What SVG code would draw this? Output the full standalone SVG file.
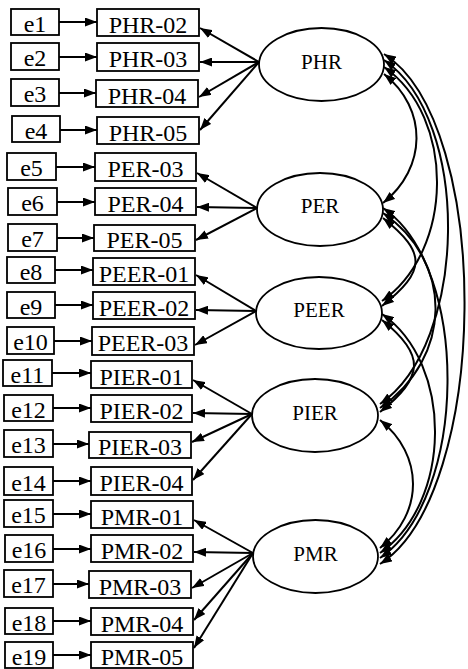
<svg xmlns="http://www.w3.org/2000/svg" width="468" height="669" viewBox="0 0 468 669">
<style>
.b{fill:#fff;stroke:#000;stroke-width:1.8}
.t{font-family:"Liberation Serif","Times New Roman",serif;font-size:24px;text-anchor:middle;fill:#000}
.lt{font-family:"Liberation Serif","Times New Roman",serif;font-size:21px;text-anchor:middle;fill:#000}
.a{stroke:#000;stroke-width:2;fill:none;marker-end:url(#ah)}
.c{stroke:#000;stroke-width:2;fill:none;marker-start:url(#ah2);marker-end:url(#ah2)}
</style>
<defs>
<marker id="ah" markerUnits="userSpaceOnUse" markerWidth="13" markerHeight="9" refX="12" refY="4.5" orient="auto"><path d="M0,0 L12,4.5 L0,9 z" fill="#000"/></marker>
<marker id="ah2" markerUnits="userSpaceOnUse" markerWidth="13" markerHeight="9" refX="12" refY="4.5" orient="auto-start-reverse"><path d="M0,0 L12,4.5 L0,9 z" fill="#000"/></marker>
</defs>
<rect width="468" height="669" fill="#fff"/>
<g id="connectors">
<line class="a" x1="59" y1="22" x2="97" y2="22"/>
<line class="a" x1="59" y1="57" x2="97" y2="57"/>
<line class="a" x1="59" y1="93" x2="96" y2="93"/>
<line class="a" x1="60" y1="130" x2="97" y2="130"/>
<line class="a" x1="56" y1="167" x2="95" y2="167"/>
<line class="a" x1="57" y1="202" x2="95" y2="202"/>
<line class="a" x1="57" y1="238" x2="94" y2="238"/>
<line class="a" x1="55" y1="270" x2="93" y2="270"/>
<line class="a" x1="55" y1="305" x2="93" y2="305"/>
<line class="a" x1="54" y1="341" x2="92" y2="341"/>
<line class="a" x1="52" y1="373" x2="91" y2="373"/>
<line class="a" x1="53" y1="408" x2="91" y2="408"/>
<line class="a" x1="53" y1="444" x2="89" y2="444"/>
<line class="a" x1="53" y1="481" x2="91" y2="481"/>
<line class="a" x1="53" y1="514" x2="91" y2="514"/>
<line class="a" x1="53" y1="549" x2="91" y2="549"/>
<line class="a" x1="53" y1="584" x2="89" y2="584"/>
<line class="a" x1="53" y1="621" x2="91" y2="621"/>
<line class="a" x1="53" y1="655" x2="91" y2="655"/>
<line class="a" x1="259" y1="62" x2="200" y2="28"/>
<line class="a" x1="259" y1="62" x2="200" y2="62"/>
<line class="a" x1="259" y1="62" x2="199" y2="97"/>
<line class="a" x1="259" y1="62" x2="200" y2="130"/>
<line class="a" x1="257" y1="208" x2="197" y2="173"/>
<line class="a" x1="257" y1="208" x2="197" y2="207"/>
<line class="a" x1="257" y1="208" x2="196" y2="240"/>
<line class="a" x1="256" y1="311" x2="196" y2="275"/>
<line class="a" x1="256" y1="311" x2="196" y2="310"/>
<line class="a" x1="256" y1="311" x2="195" y2="345"/>
<line class="a" x1="252" y1="414" x2="193" y2="380"/>
<line class="a" x1="252" y1="414" x2="193" y2="413"/>
<line class="a" x1="252" y1="414" x2="192" y2="442"/>
<line class="a" x1="252" y1="414" x2="193" y2="480"/>
<line class="a" x1="253" y1="553" x2="194" y2="520"/>
<line class="a" x1="253" y1="553" x2="194" y2="552"/>
<line class="a" x1="253" y1="553" x2="192" y2="588"/>
<line class="a" x1="253" y1="553" x2="194" y2="620"/>
<line class="a" x1="253" y1="553" x2="194" y2="648"/>
<path class="c" d="M384,74 C428,109 427,168 383,203"/>
<path class="c" d="M384,67 C456,117 454,251 382,301"/>
<path class="c" d="M384,60 C472,120 468,344 380,404"/>
<path class="c" d="M384,54 C494,124 490,494 380,564"/>
<path class="c" d="M383,218 C427,253 426,271 382,306"/>
<path class="c" d="M383,213 C455,263 452,358 380,408"/>
<path class="c" d="M383,208 C471,268 468,498 380,558"/>
<path class="c" d="M382,320 C426,355 424,377 380,412"/>
<path class="c" d="M382,314 C454,364 452,503 380,553"/>
<path class="c" d="M380,420 C424,455 424,513 380,548"/>
</g>
<g id="PHR"><ellipse class="b" cx="321.5" cy="64.5" rx="62.5" ry="36.5"/><text class="lt" x="321.5" y="68.5">PHR</text></g>
<g id="PER"><ellipse class="b" cx="320" cy="209.5" rx="63" ry="36.5"/><text class="lt" x="320" y="213">PER</text></g>
<g id="PEER"><ellipse class="b" cx="319" cy="313" rx="63" ry="36"/><text class="lt" x="319" y="317">PEER</text></g>
<g id="PIER"><ellipse class="b" cx="315" cy="415.5" rx="63" ry="36.5"/><text class="lt" x="315" y="419.5">PIER</text></g>
<g id="PMR"><ellipse class="b" cx="315.5" cy="556.5" rx="62.5" ry="36.5"/><text class="lt" x="315.5" y="560.5">PMR</text></g>
<g id="e1"><rect class="b" x="11" y="9" width="48" height="26"/><text class="t" x="35" y="32">e1</text></g>
<g id="e2"><rect class="b" x="11" y="43" width="48" height="27"/><text class="t" x="35" y="66">e2</text></g>
<g id="e3"><rect class="b" x="11" y="79" width="48" height="27"/><text class="t" x="35" y="102">e3</text></g>
<g id="e4"><rect class="b" x="12" y="116" width="48" height="26"/><text class="t" x="36" y="139">e4</text></g>
<g id="e5"><rect class="b" x="7" y="153" width="49" height="27"/><text class="t" x="31.5" y="176">e5</text></g>
<g id="e6"><rect class="b" x="8" y="188" width="49" height="27"/><text class="t" x="32.5" y="211">e6</text></g>
<g id="e7"><rect class="b" x="8" y="224" width="49" height="27"/><text class="t" x="32.5" y="247">e7</text></g>
<g id="e8"><rect class="b" x="7" y="257" width="48" height="26"/><text class="t" x="31" y="280">e8</text></g>
<g id="e9"><rect class="b" x="7" y="292" width="48" height="26"/><text class="t" x="31" y="315">e9</text></g>
<g id="e10"><rect class="b" x="7" y="327" width="47" height="27"/><text class="t" x="30.5" y="350">e10</text></g>
<g id="e11"><rect class="b" x="3" y="360" width="49" height="26"/><text class="t" x="27.5" y="383">e11</text></g>
<g id="e12"><rect class="b" x="4" y="395" width="49" height="26"/><text class="t" x="28.5" y="418">e12</text></g>
<g id="e13"><rect class="b" x="4" y="430" width="49" height="27"/><text class="t" x="28.5" y="453">e13</text></g>
<g id="e14"><rect class="b" x="4" y="467" width="49" height="28"/><text class="t" x="28.5" y="491">e14</text></g>
<g id="e15"><rect class="b" x="4" y="500" width="49" height="27"/><text class="t" x="28.5" y="523">e15</text></g>
<g id="e16"><rect class="b" x="5" y="535" width="48" height="27"/><text class="t" x="29" y="558">e16</text></g>
<g id="e17"><rect class="b" x="4" y="570" width="49" height="27"/><text class="t" x="28.5" y="593">e17</text></g>
<g id="e18"><rect class="b" x="5" y="608" width="48" height="26"/><text class="t" x="29" y="631">e18</text></g>
<g id="e19"><rect class="b" x="5" y="642" width="48" height="26"/><text class="t" x="29" y="665">e19</text></g>
<g id="PHR-02"><rect class="b" x="97" y="9" width="102" height="27"/><text class="t" x="148" y="32.5">PHR-02</text></g>
<g id="PHR-03"><rect class="b" x="97" y="43" width="102" height="28"/><text class="t" x="148" y="67">PHR-03</text></g>
<g id="PHR-04"><rect class="b" x="96" y="80" width="102" height="27"/><text class="t" x="147" y="103.5">PHR-04</text></g>
<g id="PHR-05"><rect class="b" x="97" y="117" width="102" height="27"/><text class="t" x="148" y="140.5">PHR-05</text></g>
<g id="PER-03"><rect class="b" x="95" y="153" width="101" height="28"/><text class="t" x="145.5" y="177">PER-03</text></g>
<g id="PER-04"><rect class="b" x="95" y="188" width="101" height="27"/><text class="t" x="145.5" y="211.5">PER-04</text></g>
<g id="PER-05"><rect class="b" x="94" y="225" width="101" height="26"/><text class="t" x="144.5" y="248">PER-05</text></g>
<g id="PEER-01"><rect class="b" x="93" y="258" width="102" height="27"/><text class="t" x="144" y="281.5">PEER-01</text></g>
<g id="PEER-02"><rect class="b" x="93" y="292" width="102" height="27"/><text class="t" x="144" y="315.5">PEER-02</text></g>
<g id="PEER-03"><rect class="b" x="92" y="327" width="102" height="28"/><text class="t" x="143" y="351">PEER-03</text></g>
<g id="PIER-01"><rect class="b" x="91" y="361" width="101" height="27"/><text class="t" x="141.5" y="384.5">PIER-01</text></g>
<g id="PIER-02"><rect class="b" x="91" y="395" width="101" height="27"/><text class="t" x="141.5" y="418.5">PIER-02</text></g>
<g id="PIER-03"><rect class="b" x="89" y="432" width="102" height="26"/><text class="t" x="140" y="455">PIER-03</text></g>
<g id="PIER-04"><rect class="b" x="91" y="467" width="101" height="28"/><text class="t" x="141.5" y="491">PIER-04</text></g>
<g id="PMR-01"><rect class="b" x="91" y="501" width="102" height="27"/><text class="t" x="142" y="524.5">PMR-01</text></g>
<g id="PMR-02"><rect class="b" x="91" y="535" width="102" height="27"/><text class="t" x="142" y="558.5">PMR-02</text></g>
<g id="PMR-03"><rect class="b" x="89" y="571" width="102" height="27"/><text class="t" x="140" y="594.5">PMR-03</text></g>
<g id="PMR-04"><rect class="b" x="91" y="608" width="102" height="27"/><text class="t" x="142" y="631.5">PMR-04</text></g>
<g id="PMR-05"><rect class="b" x="91" y="642" width="102" height="26"/><text class="t" x="142" y="665">PMR-05</text></g>
</svg>
